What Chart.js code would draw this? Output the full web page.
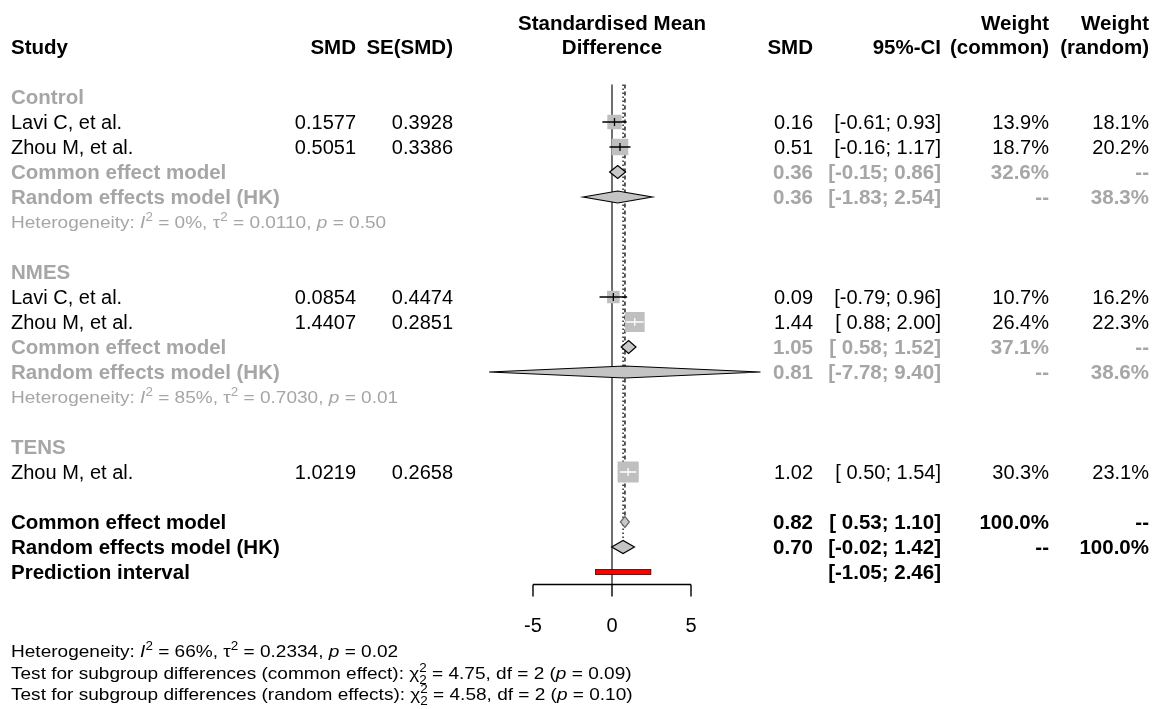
<!DOCTYPE html>
<html>
<head>
<meta charset="utf-8">
<script src="https://cdn.jsdelivr.net/npm/chart.js@4.4.0/dist/chart.umd.min.js"></script>
<style>
html, body { margin: 0; padding: 0; background: #fff; }
#wrap { width: 1153px; height: 709px; position: relative; }
</style>
</head>
<body>
<div id="wrap"><canvas id="forest"></canvas></div>
<script>
const FONT = '"Liberation Sans", Arial, sans-serif'
const BLACK = '#000000'
const GREY = '#a6a6a6'

// studies
const groupNames = ['Control', 'NMES', 'TENS']
const studyNames = ['Lavi C, et al.', 'Zhou M, et al.', 'Lavi C, et al.', 'Zhou M, et al.', 'Zhou M, et al.']
const studyGroup = [0, 0, 1, 1, 2]
const studySMD = [0.1577, 0.5051, 0.0854, 1.4407, 1.0219]
const studySE = [0.3928, 0.3386, 0.4474, 0.2851, 0.2658]
const studyLower = [-0.61, -0.16, -0.79, 0.88, 0.50]
const studyUpper = [0.93, 1.17, 0.96, 2.00, 1.54]
const studyWeightCommon = [13.9, 18.7, 10.7, 26.4, 30.3]
const studyWeightRandom = [18.1, 20.2, 16.2, 22.3, 23.1]

// subgroup summaries (TENS has a single study, no pooled rows)
const subCommonEst = [0.36, 1.05, null]
const subCommonLower = [-0.15, 0.58, null]
const subCommonUpper = [0.86, 1.52, null]
const subCommonWeight = [32.6, 37.1, null]
const subRandomEst = [0.36, 0.81, null]
const subRandomLower = [-1.83, -7.78, null]
const subRandomUpper = [2.54, 9.40, null]
const subRandomWeight = [38.3, 38.6, null]
const subI2 = [0, 85, null]
const subTau2 = ['0.0110', '0.7030', null]
const subHetP = ['0.50', '0.01', null]

// overall
const overallCommon = [0.82, 0.53, 1.10]
const overallRandom = [0.70, -0.02, 1.42]
const predInterval = [-1.05, 2.46]
const overallI2 = 66
const overallTau2 = '0.2334'
const overallHetP = '0.02'
const testLabels = ['common effect', 'random effects']
const testChi2 = ['4.75', '4.58']
const testDf = [2, 2]
const testP = ['0.09', '0.10']

const xTicks = [-5, 0, 5]

// row layout
const studyRow = []
const groupRow = []
const subCommonRow = []
const subRandomRow = []
const subHetRow = []
let r = 0
groupNames.forEach((g, gi) => {
    groupRow[gi] = r++
    studyGroup.forEach((sg, si) => {
        if (sg === gi) studyRow[si] = r++
    })
    if (subCommonEst[gi] !== null) {
        subCommonRow[gi] = r++
        subRandomRow[gi] = r++
        subHetRow[gi] = r++
    }
    r++
})
const overallCommonRow = r++
const overallRandomRow = r++
const predRow = r++

const fmt2 = (v) => (v < 0 ? '' : ' ') + v.toFixed(2)
const ciText = (lo, hi) => '[' + fmt2(lo) + ';' + fmt2(hi) + ']'

// text with superscripts/subscripts, slightly widened like the original
function drawRich(ctx, x, y, parts, size, color, sx) {
    ctx.save()
    ctx.translate(x, y)
    ctx.scale(sx, 1)
    let cx = 0
    ctx.fillStyle = color
    ctx.textAlign = 'left'
    ctx.textBaseline = 'alphabetic'
    const small = Math.round(size * 0.72)
    parts.forEach((p) => {
        if (typeof p === 'string') p = { t: p }
        if (p.sup || p.sub) {
            ctx.font = `${small}px ${FONT}`
            let w = 0
            if (p.sup) {
                ctx.fillText(p.sup, cx, -size * 0.42)
                w = ctx.measureText(p.sup).width
            }
            if (p.sub) {
                ctx.fillText(p.sub, cx, size * 0.3)
                w = Math.max(w, ctx.measureText(p.sub).width)
            }
            cx += w
        } else {
            ctx.font = `${p.i ? 'italic ' : ''}${size}px ${FONT}`
            ctx.fillText(p.t, cx, 0)
            cx += ctx.measureText(p.t).width
        }
    })
    ctx.restore()
}

const hetParts = (i2, tau2, p) => [
    'Heterogeneity: ', { t: 'I', i: true }, { sup: '2' }, ` = ${i2}%, \u03c4`, { sup: '2' },
    ` = ${tau2}, `, { t: 'p', i: true }, ` = ${p}`,
]

function text(ctx, s, x, y, align, color, bold) {
    ctx.save()
    ctx.translate(x, y)
    ctx.scale(bold ? 1.025 : 1, 1)
    ctx.font = `${bold ? 'bold ' : ''}20px ${FONT}`
    ctx.fillStyle = color
    ctx.textAlign = align
    ctx.textBaseline = 'alphabetic'
    ctx.fillText(s, 0, 0)
    ctx.restore()
}

function diamond(ctx, xs, ys, est, lo, hi, row, half, fill, stroke) {
    const y = ys.getPixelForValue(row)
    ctx.beginPath()
    ctx.moveTo(xs.getPixelForValue(lo), y)
    ctx.lineTo(xs.getPixelForValue(est), y - half)
    ctx.lineTo(xs.getPixelForValue(hi), y)
    ctx.lineTo(xs.getPixelForValue(est), y + half)
    ctx.closePath()
    ctx.fillStyle = fill
    ctx.fill()
    ctx.lineWidth = 1.2
    ctx.strokeStyle = stroke
    ctx.stroke()
}

const squareSide = (w) => 3.85 * Math.sqrt(w)

const forestPlugin = {
    id: 'forest',
    beforeDatasetsDraw(chart) {
        const { ctx, chartArea, scales: { x, y } } = chart
        ctx.save()
        // line of no effect
        ctx.strokeStyle = '#6f6f6f'
        ctx.lineWidth = 2
        ctx.beginPath()
        ctx.moveTo(x.getPixelForValue(0), chartArea.top)
        ctx.lineTo(x.getPixelForValue(0), chartArea.bottom)
        ctx.stroke()
        // pooled estimate lines
        ctx.strokeStyle = BLACK
        ctx.lineWidth = 1.3
        ctx.setLineDash([4, 3])
        ctx.beginPath()
        ctx.moveTo(x.getPixelForValue(overallCommon[0]), chartArea.top)
        ctx.lineTo(x.getPixelForValue(overallCommon[0]), y.getPixelForValue(overallCommonRow))
        ctx.stroke()
        ctx.setLineDash([1.5, 2.5])
        ctx.beginPath()
        ctx.moveTo(x.getPixelForValue(overallRandom[0]), chartArea.top)
        ctx.lineTo(x.getPixelForValue(overallRandom[0]), y.getPixelForValue(overallRandomRow))
        ctx.stroke()
        ctx.restore()
    },
    afterDatasetsDraw(chart) {
        const { ctx, scales: { x, y } } = chart
        ctx.save()
        // confidence intervals of single studies
        studySMD.forEach((est, i) => {
            const py = y.getPixelForValue(studyRow[i])
            const px = x.getPixelForValue(est)
            const lo = x.getPixelForValue(studyLower[i])
            const hi = x.getPixelForValue(studyUpper[i])
            const half = squareSide(studyWeightCommon[i]) / 2
            const inside = lo >= px - half && hi <= px + half
            ctx.strokeStyle = inside ? '#ffffff' : BLACK
            ctx.lineWidth = 1.3
            ctx.beginPath()
            ctx.moveTo(lo, py)
            ctx.lineTo(hi, py)
            ctx.moveTo(px, py - 4)
            ctx.lineTo(px, py + 4)
            ctx.stroke()
        })
        // subgroup diamonds
        groupNames.forEach((g, gi) => {
            if (subCommonEst[gi] === null) return
            diamond(ctx, x, y, subCommonEst[gi], subCommonLower[gi], subCommonUpper[gi], subCommonRow[gi], 6.5, '#c8c8c8', BLACK)
            diamond(ctx, x, y, subRandomEst[gi], subRandomLower[gi], subRandomUpper[gi], subRandomRow[gi], 6, '#c4c4c4', BLACK)
        })
        diamond(ctx, x, y, overallCommon[0], overallCommon[1], overallCommon[2], overallCommonRow, 5.5, '#c8c8c8', '#6a6a6a')
        diamond(ctx, x, y, overallRandom[0], overallRandom[1], overallRandom[2], overallRandomRow, 6.5, '#c4c4c4', BLACK)
        // prediction interval
        const pl = x.getPixelForValue(predInterval[0])
        const pr = x.getPixelForValue(predInterval[1])
        const pyy = y.getPixelForValue(predRow)
        ctx.fillStyle = '#ff0000'
        ctx.fillRect(pl, pyy - 2.5, pr - pl, 5)
        ctx.strokeStyle = '#400000'
        ctx.lineWidth = 0.8
        ctx.strokeRect(pl, pyy - 2.5, pr - pl, 5)
        ctx.restore()
    },
    afterDraw(chart) {
        const { ctx, chartArea, scales: { x, y } } = chart
        ctx.save()
        // axis
        const ay = chartArea.bottom
        ctx.strokeStyle = BLACK
        ctx.lineWidth = 1.4
        ctx.beginPath()
        ctx.moveTo(x.getPixelForValue(xTicks[0]), ay)
        ctx.lineTo(x.getPixelForValue(xTicks[xTicks.length - 1]), ay)
        xTicks.forEach((t) => {
            ctx.moveTo(x.getPixelForValue(t), ay)
            ctx.lineTo(x.getPixelForValue(t), ay + 12)
        })
        ctx.stroke()
        xTicks.forEach((t) => text(ctx, String(t), x.getPixelForValue(t), ay + 47, 'center', BLACK, false))

        // headers
        const h1 = 30, h2 = 54
        text(ctx, 'Study', 11, h2, 'left', BLACK, true)
        text(ctx, 'SMD', 356, h2, 'right', BLACK, true)
        text(ctx, 'SE(SMD)', 453, h2, 'right', BLACK, true)
        text(ctx, 'Standardised Mean', 612, h1, 'center', BLACK, true)
        text(ctx, 'Difference', 612, h2, 'center', BLACK, true)
        text(ctx, 'SMD', 813, h2, 'right', BLACK, true)
        text(ctx, '95%-CI', 941, h2, 'right', BLACK, true)
        text(ctx, 'Weight', 1049, h1, 'right', BLACK, true)
        text(ctx, '(common)', 1049, h2, 'right', BLACK, true)
        text(ctx, 'Weight', 1149, h1, 'right', BLACK, true)
        text(ctx, '(random)', 1149, h2, 'right', BLACK, true)

        const base = (row) => y.getPixelForValue(row) + 7
        const rowValues = (row, est, lo, hi, wc, wr, color, bold) => {
            const b = base(row)
            if (est !== null) text(ctx, est.toFixed(2), 813, b, 'right', color, bold)
            text(ctx, ciText(lo, hi), 941, b, 'right', color, bold)
            if (wc !== undefined) text(ctx, wc, 1049, b, 'right', color, bold)
            if (wr !== undefined) text(ctx, wr, 1149, b, 'right', color, bold)
        }

        groupNames.forEach((g, gi) => {
            text(ctx, g, 11, base(groupRow[gi]), 'left', GREY, true)
            if (subCommonEst[gi] === null) return
            text(ctx, 'Common effect model', 11, base(subCommonRow[gi]), 'left', GREY, true)
            rowValues(subCommonRow[gi], subCommonEst[gi], subCommonLower[gi], subCommonUpper[gi],
                subCommonWeight[gi].toFixed(1) + '%', '--', GREY, true)
            text(ctx, 'Random effects model (HK)', 11, base(subRandomRow[gi]), 'left', GREY, true)
            rowValues(subRandomRow[gi], subRandomEst[gi], subRandomLower[gi], subRandomUpper[gi],
                '--', subRandomWeight[gi].toFixed(1) + '%', GREY, true)
            drawRich(ctx, 11, base(subHetRow[gi]) - 1, hetParts(subI2[gi], subTau2[gi], subHetP[gi]), 17, GREY, 1.12)
        })

        studyNames.forEach((name, i) => {
            const b = base(studyRow[i])
            text(ctx, name, 11, b, 'left', BLACK, false)
            text(ctx, studySMD[i].toFixed(4), 356, b, 'right', BLACK, false)
            text(ctx, studySE[i].toFixed(4), 453, b, 'right', BLACK, false)
            rowValues(studyRow[i], studySMD[i], studyLower[i], studyUpper[i],
                studyWeightCommon[i].toFixed(1) + '%', studyWeightRandom[i].toFixed(1) + '%', BLACK, false)
        })

        text(ctx, 'Common effect model', 11, base(overallCommonRow), 'left', BLACK, true)
        rowValues(overallCommonRow, overallCommon[0], overallCommon[1], overallCommon[2], '100.0%', '--', BLACK, true)
        text(ctx, 'Random effects model (HK)', 11, base(overallRandomRow), 'left', BLACK, true)
        rowValues(overallRandomRow, overallRandom[0], overallRandom[1], overallRandom[2], '--', '100.0%', BLACK, true)
        text(ctx, 'Prediction interval', 11, base(predRow), 'left', BLACK, true)
        rowValues(predRow, null, predInterval[0], predInterval[1], undefined, undefined, BLACK, true)

        drawRich(ctx, 11, 657, hetParts(overallI2, overallTau2, overallHetP), 17, BLACK, 1.12)
        testLabels.forEach((lab, k) => {
            drawRich(ctx, 11, 679 + k * 21, [
                `Test for subgroup differences (${lab}): \u03c7`, { sup: '2', sub: String(testDf[k]) },
                ` = ${testChi2[k]}, df = ${testDf[k]} (`, { t: 'p', i: true }, ` = ${testP[k]})`,
            ], 17, BLACK, 1.12)
        })
        ctx.restore()
    },
}

new Chart(document.getElementById('forest'), {
    type: 'scatter',
    data: {
        datasets: [{
            label: 'Studies',
            data: studySMD.map((v, i) => ({ x: v, y: studyRow[i] })),
            pointStyle: 'rect',
            pointRadius: studyWeightCommon.map((w) => squareSide(w) / Math.SQRT2),
            pointHoverRadius: studyWeightCommon.map((w) => squareSide(w) / Math.SQRT2),
            backgroundColor: '#bfbfbf',
            borderWidth: 0,
        }],
    },
    options: {
        responsive: true,
        maintainAspectRatio: false,
        animation: false,
        layout: { padding: { left: 533, right: 462, top: 84.5, bottom: 124.5 } },
        scales: {
            x: { type: 'linear', min: -5, max: 5, display: false },
            y: { type: 'linear', min: -0.5, max: predRow + 0.5, reverse: true, display: false },
        },
        plugins: {
            legend: { display: false },
            tooltip: { enabled: false },
        },
    },
    plugins: [forestPlugin],
})
</script>
</body>
</html>
